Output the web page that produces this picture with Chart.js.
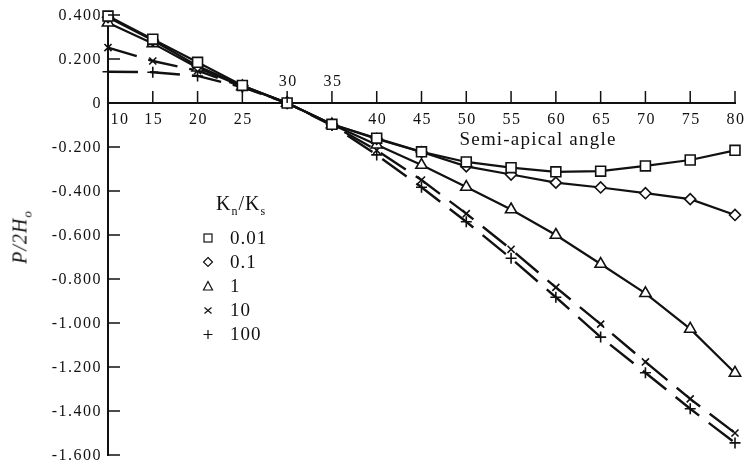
<!DOCTYPE html>
<html lang="en">
<head>
  <meta charset="UTF-8">
  <title>P/2Ho vs semi-apical angle</title>
  <script src="https://cdn.jsdelivr.net/npm/chart.js"></script>
  <style>
    body {
      margin: 0;
      background: #fff;
    }
    #wrap {
      position: relative;
      width: 744px;
      height: 465px;
      font-family: "Liberation Serif", "Times New Roman", serif;
      color: #111;
    }
    #ytitle {
      position: absolute;
      left: 22px;
      top: 237px;
      transform: translate(-50%, -50%) rotate(-90deg);
      font-size: 20px;
      font-style: italic;
      white-space: nowrap;
      letter-spacing: 1px;
    }
    #ytitle sub { font-size: 13px; }
    #xtitle {
      position: absolute;
      left: 538px;
      top: 139px;
      transform: translate(-50%, -50%);
      font-size: 19px;
      letter-spacing: 1.2px;
      white-space: nowrap;
    }
    #legend {
      position: absolute;
      left: 202px;
      top: 192px;
    }
    #legend .title {
      font-size: 20px;
      margin-left: 14px;
      height: 34px;
      letter-spacing: 1px;
    }
    #legend .title sub { font-size: 12px; }
    #legend .row {
      display: flex;
      align-items: center;
      height: 24px;
      font-size: 19px;
      letter-spacing: 1px;
    }
    #legend svg { margin-right: 16px; }
  </style>
</head>
<body>
  <div id="wrap">
    <canvas id="chart" width="744" height="465"></canvas>
    <div id="ytitle">P/2H<sub>o</sub></div>
    <div id="xtitle">Semi-apical angle</div>
    <div id="legend"><div class="title">K<sub>n</sub>/K<sub>s</sub></div></div>
  </div>

  <script>
    // semi-apical angle (degrees)
    const angles = [10, 15, 20, 25, 30, 35, 40, 45, 50, 55, 60, 65, 70, 75, 80];
    // Kn/Ks ratios
    const ratios = ['0.01', '0.1', '1', '10', '100'];

    // P/2Ho
    const kr001 = [0.395, 0.29, 0.185, 0.08, 0, -0.097, -0.16, -0.222, -0.268, -0.294, -0.313, -0.31, -0.286, -0.259, -0.215];
    const kr01  = [0.39, 0.285, 0.168, 0.078, 0, -0.097, -0.163, -0.223, -0.288, -0.325, -0.362, -0.384, -0.41, -0.437, -0.509];
    const kr1   = [0.365, 0.271, 0.16, 0.075, 0, -0.098, -0.19, -0.282, -0.382, -0.484, -0.6, -0.732, -0.865, -1.027, -1.227];
    const kr10  = [0.252, 0.191, 0.147, 0.075, 0, -0.1, -0.215, -0.35, -0.503, -0.665, -0.838, -1.005, -1.177, -1.345, -1.5];
    const kr100 = [0.142, 0.14, 0.123, 0.072, 0, -0.102, -0.236, -0.383, -0.54, -0.706, -0.883, -1.064, -1.226, -1.39, -1.545];

    const xLabelsAbove = [30, 35]; // these two sit above the axis in the original

    const series = [kr001, kr01, kr1, kr10, kr100];
    const styles = ['rect', 'rectRot', 'triangle', 'crossRot', 'cross'];
    const radii = [7, 5.5, 6.5, 5, 5.5];

    function makeDataset(vals, i) {
      const dashed = i >= 3;
      return {
        label: ratios[i],
        data: angles.map((a, j) => ({ x: a, y: vals[j] })),
        borderColor: '#111',
        borderWidth: dashed ? 2.4 : 2.2,
        borderDash: dashed ? [30, 12] : [],
        pointStyle: styles[i],
        pointRadius: radii[i],
        pointBorderWidth: 1.6,
        pointBackgroundColor: '#fff',
        pointBorderColor: '#111',
        tension: 0,
        clip: false
      };
    }

    // tick marks pointing inward + tick labels in the old typeset look
    const axisDecor = {
      id: 'axisDecor',
      afterDraw(chart) {
        const { ctx, scales: { x, y } } = chart;
        const x0 = x.getPixelForValue(angles[0]);
        const y0 = y.getPixelForValue(0);
        ctx.save();
        ctx.fillStyle = '#111';
        ctx.font = '16px "Liberation Serif"';
        ctx.letterSpacing = '1.5px';

        x.ticks.forEach(t => {
          const px = x.getPixelForValue(t.value);
          ctx.fillRect(px - 0.75, y0 - 12, 1.5, 12);
          const up = xLabelsAbove.includes(t.value);
          ctx.textAlign = 'center';
          ctx.textBaseline = 'alphabetic';
          const dx = t.value === angles[0] ? 12 : 1;
          ctx.fillText(String(t.value), px + dx, up ? y0 - 17 : y0 + 21);
        });

        y.ticks.forEach(t => {
          const v = Math.round(t.value * 1000) / 1000;
          const py = y.getPixelForValue(v);
          ctx.fillRect(x0, py - 0.75, 12, 1.5);
          ctx.textAlign = 'right';
          ctx.textBaseline = 'alphabetic';
          const txt = v === 0 ? '0' : v.toFixed(3);
          ctx.fillText(txt, x0 - 6, py + 5);
        });
        ctx.restore();
      }
    };

    new Chart(document.getElementById('chart'), {
      type: 'line',
      data: { datasets: series.map(makeDataset) },
      options: {
        responsive: false,
        animation: false,
        layout: { padding: { left: 108, right: 9, top: 15, bottom: 10 } },
        plugins: {
          legend: { display: false },
          tooltip: { enabled: false }
        },
        scales: {
          x: {
            type: 'linear',
            min: 10,
            max: 80,
            position: { y: 0 },
            ticks: { display: false, stepSize: 5 },
            grid: { display: false },
            border: { color: '#111', width: 2 }
          },
          y: {
            min: -1.6,
            max: 0.4,
            ticks: { display: false, stepSize: 0.2 },
            grid: { display: false },
            border: { color: '#111', width: 2 },
            afterFit: s => { s.width = 0; }
          }
        }
      },
      plugins: [axisDecor]
    });

    // legend, built from the same ratios / point styles
    const marks = {
      rect: '<rect x="2" y="2" width="8" height="8" fill="#fff" stroke="#111" stroke-width="1.2"/>',
      rectRot: '<polygon points="6,1.5 10.5,6 6,10.5 1.5,6" fill="#fff" stroke="#111" stroke-width="1.2"/>',
      triangle: '<polygon points="6,1.5 10.5,10 1.5,10" fill="#fff" stroke="#111" stroke-width="1.2"/>',
      crossRot: '<path d="M2.5 3.5 L9.5 9.5 M9.5 3.5 L2.5 9.5" stroke="#111" stroke-width="1.2"/>',
      cross: '<path d="M6 2 L6 11 M1.5 6.5 L10.5 6.5" stroke="#111" stroke-width="1.2"/>'
    };
    const legend = document.getElementById('legend');
    ratios.forEach((r, i) => {
      const row = document.createElement('div');
      row.className = 'row';
      row.innerHTML = '<svg width="12" height="12">' + marks[styles[i]] + '</svg><span>' + r + '</span>';
      legend.appendChild(row);
    });
  </script>
</body>
</html>
